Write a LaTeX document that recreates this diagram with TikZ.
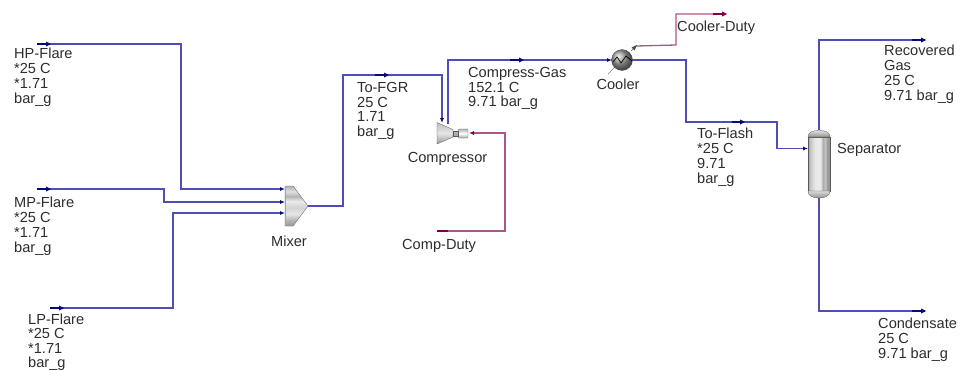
\documentclass[tikz,border=0pt]{standalone}
\usepackage{fontspec}
\setmainfont{Liberation Sans}
\usetikzlibrary{arrows.meta}
\definecolor{mat}{RGB}{78,78,182}
\definecolor{matd}{RGB}{8,8,125}
\definecolor{duty}{RGB}{175,85,135}
\definecolor{dutyd}{RGB}{125,0,70}
\definecolor{txt}{RGB}{45,45,45}
\pgfdeclareverticalshading{mixshade}{100bp}{
  color(0bp)=(gray!80); color(25bp)=(gray!80); color(32bp)=(gray!60); color(40bp)=(gray!20); color(48bp)=(gray!35); color(56bp)=(gray!15); color(62bp)=(gray!60); color(68bp)=(gray!25); color(75bp)=(gray!60); color(100bp)=(gray!60)}
\pgfdeclarehorizontalshading{sepshade}{100bp}{
  color(0bp)=(gray!75); color(25bp)=(gray!75); color(30bp)=(gray!45); color(40bp)=(gray!20); color(50bp)=(gray!15); color(56bp)=(gray!30); color(58bp)=(gray!70); color(64bp)=(gray!45); color(68bp)=(gray!75); color(75bp)=(gray!85); color(100bp)=(gray!85)}
\tikzset{
  x=1pt,y=-1pt,
  lbl/.style={anchor=north west,inner sep=0pt,align=left,text=txt,font=\fontsize{14.6}{14.8}\selectfont},
  lbltight/.style={lbl,font=\fontsize{14.6}{14.2}\selectfont},
  unitlbl/.style={inner sep=0pt,text=txt,font=\fontsize{14.6}{14.8}\selectfont},
  matl/.style={draw=mat,line width=1.2pt,line join=miter},
  dutyl/.style={draw=duty,line width=1.3pt,line join=miter},
  matarr/.style={matl,-{Latex[length=5pt,width=4pt,color=matd]}},
  dutyarr/.style={dutyl,-{Latex[length=5pt,width=4pt,color=dutyd]}},
  matend/.style={draw=matd,line width=2.2pt},
  dutyend/.style={draw=dutyd,line width=2.2pt},
  marr/.style={draw=none,fill=matd},
  darr/.style={draw=none,fill=dutyd},
  unit/.style={draw=gray!70!black,line width=.3pt},
}
\begin{document}
\begin{tikzpicture}
\useasboundingbox (0,0) rectangle (960,370);
\fill[white] (0,0) rectangle (960,370);
% stream coordinates
\coordinate (hp) at (37,44); \coordinate (hpe) at (50,44);
\coordinate (mp) at (37,189); \coordinate (mpe) at (50,189);
\coordinate (lp) at (50,308); \coordinate (lpe) at (63,308);
\coordinate (mixa) at (285,189); \coordinate (mixb) at (285,202); \coordinate (mixc) at (285,213);
\coordinate (mixo) at (308,206);
\coordinate (cpi) at (442,123); \coordinate (cpo) at (448,124); \coordinate (cpw) at (469,133);
\coordinate (clri) at (612,60); \coordinate (clro) at (632,60); \coordinate (clrw) at (636,46);
\coordinate (sepi) at (808,148.5); \coordinate (sept) at (819,130); \coordinate (sepb) at (819,198);
\coordinate (rec) at (925,40); \coordinate (con) at (925,311);
\coordinate (cdd) at (725,14); \coordinate (cmd) at (437,231);
% connectors
\draw[matarr] (hpe) -| (181,189) -- (mixa);
\draw[matarr] (mpe) -- (164,189) |- (mixb);
\draw[matarr] (lpe) -- (173,308) |- (mixc);
\draw[matarr] (mixo) -- (343,206) |- (442,75) -- (cpi);
\draw[matarr] (cpo) -- (448,60) -- (clri);
\draw[matl] (clro) -- (686,60) |- (777,122) -- (777,148.5);
\draw[matarr] (777,148.5) -- (sepi);
\draw[matl] (sept) -- (819,40) -- (915,40);
\draw[matl] (sepb) -- (819,311) -- (915,311);
\draw[dutyl] (clrw) -- (676,45) -- (676,14) -- (715,14);
\draw[dutyarr] (448,231) -- (505,231) -- (505,133) -- (cpw);
% stream ends and flow marks
\draw[matend] (hp) -- (hpe); \fill[marr] (51,44) -- (46,41.5) -- (46,46.5) -- cycle;
\draw[matend] (mp) -- (mpe); \fill[marr] (51,189) -- (46,186.5) -- (46,191.5) -- cycle;
\draw[matend] (lp) -- (lpe); \fill[marr] (64,308) -- (59,305.5) -- (59,310.5) -- cycle;
\fill[marr] (389,75) -- (384,72.5) -- (384,77.5) -- cycle; \draw[matend] (375,75) -- (386,75);
\fill[marr] (524,60) -- (519,57.5) -- (519,62.5) -- cycle; \draw[matend] (510,60) -- (521,60);
\fill[marr] (745,122) -- (740,119.5) -- (740,124.5) -- cycle; \draw[matend] (732,122) -- (742,122);
\draw[matend] (912,40) -- (rec); \fill[marr] (926,40) -- (921,37.5) -- (921,42.5) -- cycle;
\draw[matend] (912,311) -- (con); \fill[marr] (926,311) -- (921,308.5) -- (921,313.5) -- cycle;
\draw[dutyend] (713,14) -- (cdd); \fill[darr] (727,14) -- (722,11.5) -- (722,16.5) -- cycle;
\draw[dutyend] (cmd) -- (448,231);
% mixer
\shade[unit,shading=mixshade] (285,186) -- (293,186) -- (308,206) -- (293,226) -- (285,226) -- cycle;
\draw[gray!70,line width=1pt] (285.5,186) -- (285.5,226);
\node[unitlbl] (mixlbl) at (289,241) {Mixer};
% compressor
\shade[unit,top color=gray!50,bottom color=gray!80,middle color=gray!20] (437,122.5) -- (453,129.5) -- (453,137) -- (437,144) -- cycle;
\shade[unit,top color=gray!60,bottom color=gray!70,middle color=white,rounded corners=1pt] (458,129) rectangle (468,138);
\shade[unit,top color=gray!60,bottom color=gray!70] (453,131) rectangle (458,136);
\node[unitlbl] (cmplbl) at (447.5,159) {Compressor};
% cooler
\draw[gray,line width=.6pt] (608,74) -- (622,60);
\shade[ball color=gray!75,draw=black!70,line width=.3pt] (622,60) circle (10.5);
\draw[black,line width=.7pt] (613,62) -- (617,57) -- (621,63) -- (626,56) -- (632,61);
\draw[gray!80!black,line width=.6pt] (631,51) -- (636,46);
\fill[black!70] (637,45) -- (631.5,47.5) -- (634.5,50.5) -- cycle;
\node[unitlbl] (clrlbl) at (618,84) {Cooler};
% separator
\shade[unit,shading=sepshade] (808,137) rectangle (830,191);
\shade[unit,top color=gray!25,bottom color=gray!85] (808,137) .. controls (808,132) and (813,130.5) .. (819,130.5) .. controls (825,130.5) and (830,132) .. (830,137) -- cycle;
\shade[unit,top color=gray!30,bottom color=gray!85] (808,191) .. controls (808,196) and (813,198) .. (819,198) .. controls (825,198) and (830,196) .. (830,191) -- cycle;
\node[unitlbl,anchor=west] (seplbl) at (837,150) {Separator};
% labels
\node[lbl] (l1) at (14,48) {HP-Flare\\*25 C\\*1.71\\bar\_g};
\node[lbl] (l2) at (14,197) {MP-Flare\\*25 C\\*1.71\\bar\_g};
\node[lbltight] (l3) at (28,314) {LP-Flare\\*25 C\\*1.71\\bar\_g};
\node[lbl] (l4) at (357,82) {To-FGR\\25 C\\1.71\\bar\_g};
\node[lbl] (l5) at (468,67) {Compress-Gas\\152.1 C\\9.71 bar\_g};
\node[lbl] (l6) at (402,239) {Comp-Duty};
\node[lbl] (l7) at (677,21) {Cooler-Duty};
\node[lbl] (l8) at (697,128) {To-Flash\\*25 C\\9.71\\bar\_g};
\node[lbl] (l9) at (884,45) {Recovered\\Gas\\25 C\\9.71 bar\_g};
\node[lbl] (l10) at (878,318) {Condensate\\25 C\\9.71 bar\_g};
\end{tikzpicture}
\end{document}
